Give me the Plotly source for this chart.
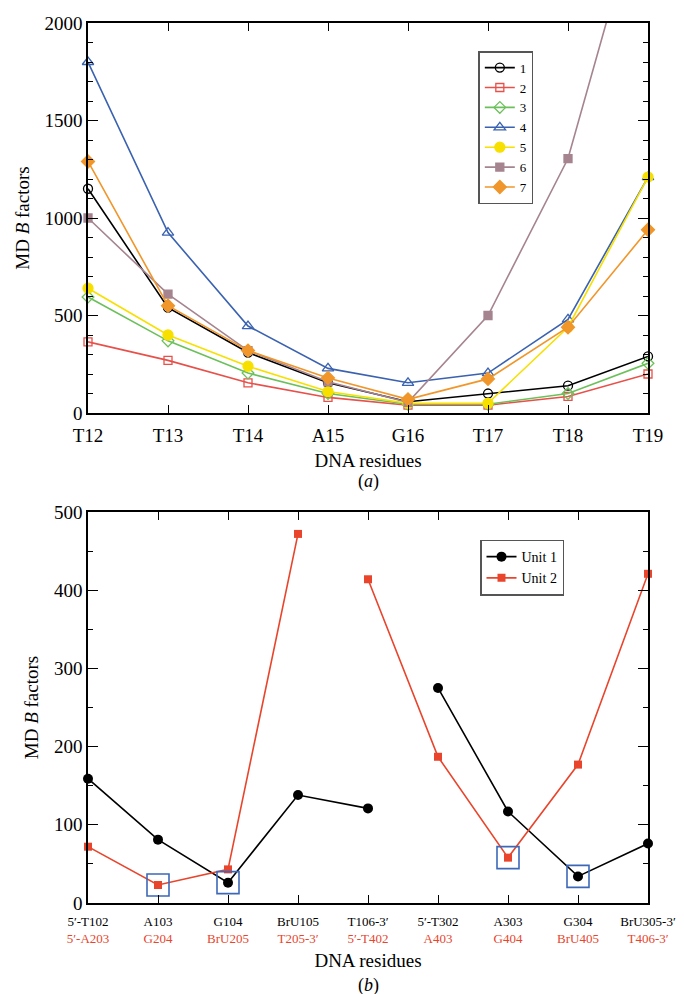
import plotly.graph_objects as go

# ---------------- Panel (a) data ----------------
residues_a = ["T12", "T13", "T14", "A15", "G16", "T17", "T18", "T19"]
series_names = ["1", "2", "3", "4", "5", "6", "7"]
s1 = [1150, 540, 310, 155, 58, 100, 140, 290]
s2 = [365, 270, 155, 80, 40, 40, 85, 200]
s3 = [595, 370, 205, 100, 45, 45, 100, 255]
s4 = [1800, 925, 446, 229, 155, 205, 480, 1210]
s5 = [640, 400, 240, 110, 50, 50, 440, 1210]
s6 = [1000, 610, 320, 160, 55, 500, 1305, 2760]
s7 = [1290, 550, 320, 180, 70, 175, 440, 940]

# ---------------- Panel (b) data ----------------
residues_b_unit1 = ["5′-T102", "A103", "G104", "BrU105", "T106-3′",
                    "5′-T302", "A303", "G304", "BrU305-3′"]
residues_b_unit2 = ["5′-A203", "G204", "BrU205", "T205-3′", "5′-T402",
                    "A403", "G404", "BrU405", "T406-3′"]
unit1 = [159, 81, 26, 138, 121, 275, 117, 34, 76]
unit2 = [72, 23, 43, 472, 414, 187, 58, 177, 421]
unit1_breaks = [5]          # strand break before index 5
unit2_breaks = [4]          # strand break before index 4
highlight_unit1 = [2, 7]    # boxed points on unit 1
highlight_unit2 = [1, 6]    # boxed points on unit 2

# ---------------- styles ----------------
colors_a = ["#000000", "#e8504a", "#6cc05a", "#3a62b0", "#f7e000", "#a5848f", "#f0962a"]
symbols_a = ["circle-open", "square-open", "diamond-open", "triangle-up-open",
             "circle", "square", "diamond"]
sizes_a = [9, 8, 9, 10, 10, 8, 10]
red_b = "#e8452c"
blue_box = "#3d68b8"
FONT = "Liberation Serif"

fig = go.Figure()

all_a = [s1, s2, s3, s4, s5, s6, s7]
for name, vals, c, sym, sz in zip(series_names, all_a, colors_a, symbols_a, sizes_a):
    fig.add_trace(go.Scatter(
        x=residues_a, y=vals, name=name, mode="lines+markers",
        line=dict(color=c, width=1.6),
        marker=dict(symbol=sym, size=sz, color=c, line=dict(color=c, width=1.3)),
        xaxis="x", yaxis="y", legend="legend", cliponaxis=False,
    ))


def with_breaks(vals, breaks):
    xs, ys = [], []
    for i, v in enumerate(vals):
        if i in breaks:
            xs.append(None)
            ys.append(None)
        xs.append(i)
        ys.append(v)
    return xs, ys


xb1, yb1 = with_breaks(unit1, unit1_breaks)
xb2, yb2 = with_breaks(unit2, unit2_breaks)

fig.add_trace(go.Scatter(
    x=xb1, y=yb1, name="Unit 1", mode="lines+markers", connectgaps=False,
    line=dict(color="black", width=1.6),
    marker=dict(symbol="circle", size=10, color="black"),
    xaxis="x2", yaxis="y2", legend="legend2", cliponaxis=False,
))
fig.add_trace(go.Scatter(
    x=xb2, y=yb2, name="Unit 2", mode="lines+markers", connectgaps=False,
    line=dict(color=red_b, width=1.6),
    marker=dict(symbol="square", size=8, color=red_b),
    xaxis="x2", yaxis="y2", legend="legend2", cliponaxis=False,
))
hx = highlight_unit1 + highlight_unit2
hy = [unit1[i] for i in highlight_unit1] + [unit2[i] for i in highlight_unit2]
fig.add_trace(go.Scatter(
    x=hx, y=hy, mode="markers", showlegend=False,
    marker=dict(symbol="square-open", size=22, color=blue_box, line=dict(width=1.6)),
    xaxis="x2", yaxis="y2", cliponaxis=False,
))

tick_b = [f"{a}<br><span style='color:{red_b}'>{b}</span>"
          for a, b in zip(residues_b_unit1, residues_b_unit2)]

axis_common = dict(showline=True, linecolor="black", linewidth=1.5, mirror="ticks",
                   ticks="inside", tickcolor="black", showgrid=False, zeroline=False,
                   automargin=False)

# the page body adds an 8px offset, so the figure is sized 8px smaller
fig.update_layout(
    width=676, height=986,
    margin=dict(l=80, r=36, t=15, b=91),
    paper_bgcolor="white", plot_bgcolor="white",
    font=dict(family=FONT, color="black", size=18),
    xaxis=dict(**axis_common, type="category", range=[0, 7], ticklen=8, tickwidth=1.2,
               tickfont=dict(size=19), domain=[0, 1], anchor="y", ticklabelstandoff=4,
               title=dict(text="DNA residues", font=dict(size=19), standoff=9)),
    yaxis=dict(**axis_common, range=[0, 2000], dtick=500, ticklen=10, tickwidth=1.2,
               tickfont=dict(size=19), domain=[0.5568, 1], anchor="x",
               minor=dict(dtick=100, ticklen=5, ticks="inside", tickcolor="black", tickwidth=1.2),
               title=dict(text="MD <i>B</i> factors", font=dict(size=19), standoff=10)),
    xaxis2=dict(**axis_common, range=[0, 8], tickvals=list(range(len(tick_b))), ticktext=tick_b,
                ticklen=8, tickwidth=1.2, tickfont=dict(size=13), domain=[0, 1], anchor="y2",
                ticklabelstandoff=6,
                title=dict(text="DNA residues", font=dict(size=19), standoff=8)),
    yaxis2=dict(**axis_common, range=[0, 500], dtick=100, ticklen=10, tickwidth=1.2,
                tickfont=dict(size=19), domain=[0, 0.4443], anchor="x2",
                minor=dict(dtick=50, ticklen=5, ticks="inside", tickcolor="black", tickwidth=1.2),
                title=dict(text="MD <i>B</i> factors", font=dict(size=19), standoff=10)),
    legend=dict(x=0.697, y=0.968, xanchor="left", yanchor="top",
                bgcolor="white", bordercolor="#555555", borderwidth=1.5,
                font=dict(size=13, color="black"), tracegroupgap=0, itemwidth=30),
    legend2=dict(x=0.700, y=0.413, xanchor="left", yanchor="top",
                 bgcolor="white", bordercolor="#555555", borderwidth=1.5,
                 font=dict(size=14, color="black"), tracegroupgap=0, itemwidth=30),
    annotations=[
        dict(text="(<i>a</i>)", xref="paper", yref="paper", x=0.5, y=0.5568,
             yshift=-68, showarrow=False, font=dict(size=18), xanchor="center", yanchor="middle"),
        dict(text="(<i>b</i>)", xref="paper", yref="paper", x=0.5, y=0,
             yshift=-82, showarrow=False, font=dict(size=18), xanchor="center", yanchor="middle"),
    ],
    showlegend=True,
)

fig.write_html("out.html")
